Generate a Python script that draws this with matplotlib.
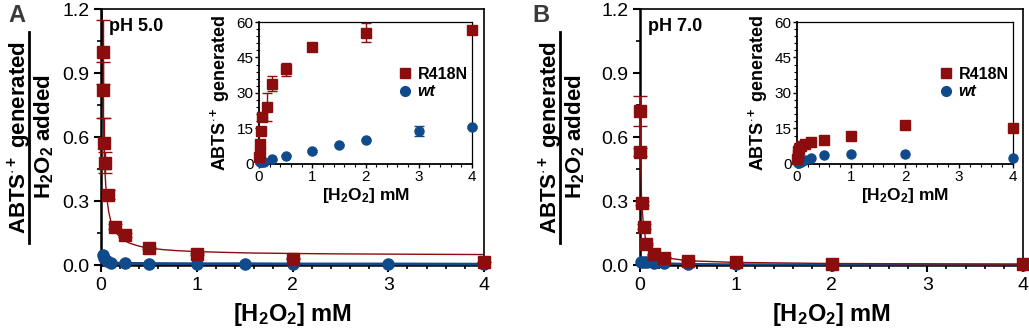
# ABTS radical formation, R418N vs wt, pH 5.0 (A) and pH 7.0 (B)
import matplotlib as mpl
import matplotlib.pyplot as plt
from matplotlib.ticker import MultipleLocator
from matplotlib.lines import Line2D

mpl.rcParams['font.family'] = ['Liberation Sans', 'DejaVu Sans']
mpl.rcParams['mathtext.fontset'] = 'custom'
mpl.rcParams['mathtext.rm'] = 'Liberation Sans'
mpl.rcParams['mathtext.bf'] = 'Liberation Sans:bold'
mpl.rcParams['mathtext.it'] = 'Liberation Sans:italic'

RED = '#8b0d0d'
BLUE = '#0f4a8a'

# ---- pH 5.0 : ratio (main) ----
a_red_x = [0.017, 0.024, 0.028, 0.041, 0.069, 0.15, 0.25, 0.5, 1.0, 2.0, 4.0]
a_red_y = [1.00, 0.82, 0.57, 0.48, 0.33, 0.18, 0.14, 0.08, 0.05, 0.03, 0.015]
a_red_err = [0.15, 0.13, 0.12, 0.05, 0.02, 0.01, 0.01, 0.005, 0.004, 0.002, 0.001]
a_fit_x = [0.012, 0.016, 0.02, 0.025, 0.03, 0.04, 0.05, 0.065, 0.08, 0.1, 0.12, 0.15, 0.2,
           0.25, 0.3, 0.4, 0.5, 0.65, 0.8, 1.0, 1.3, 1.6, 2.0, 2.5, 3.0, 3.5, 4.0]
a_fit_y = [1.20, 0.98, 0.82, 0.68, 0.58, 0.45, 0.37, 0.30, 0.25, 0.21, 0.18, 0.155, 0.13,
           0.113, 0.102, 0.088, 0.080, 0.072, 0.067, 0.063, 0.059, 0.056, 0.054, 0.052, 0.051,
           0.050, 0.049]
a_blue_x = [0.02, 0.035, 0.06, 0.1, 0.25, 0.5, 1.0, 1.5, 2.0, 3.0, 4.0]
a_blue_y = [0.045, 0.035, 0.02, 0.01, 0.008, 0.007, 0.006, 0.006, 0.005, 0.005, 0.004]

# ---- pH 5.0 : ABTS generated (inset) ----
ai_red_x = [0.005, 0.01, 0.02, 0.04, 0.06, 0.15, 0.25, 0.5, 1.0, 2.0, 4.0]
ai_red_y = [3.0, 4.5, 8.5, 14.0, 20.0, 24.0, 34.0, 40.0, 49.5, 55.5, 56.5]
ai_red_err = [0.5, 0.5, 0.8, 1.0, 1.0, 6.0, 3.0, 2.8, 1.5, 4.0, 1.0]
ai_blue_x = [0.01, 0.03, 0.06, 0.1, 0.25, 0.5, 1.0, 1.5, 2.0, 3.0, 4.0]
ai_blue_y = [1.0, 1.0, 1.0, 0.8, 2.0, 3.5, 5.5, 8.0, 10.2, 14.0, 15.5]
ai_blue_err = [0.2, 0.2, 0.2, 0.2, 0.3, 0.3, 0.4, 0.4, 0.5, 2.0, 0.5]

# ---- pH 7.0 : ratio (main) ----
b_red_x = [0.003, 0.005, 0.017, 0.038, 0.066, 0.15, 0.25, 0.5, 1.0, 2.0, 4.0]
b_red_y = [0.72, 0.53, 0.29, 0.18, 0.10, 0.05, 0.035, 0.02, 0.012, 0.007, 0.004]
b_red_err = [0.07, 0.02, 0.01, 0.01, 0.005, 0.003, 0.002, 0.002, 0.001, 0.001, 0.001]
b_blue_x = [0.01, 0.04, 0.07, 0.15, 0.25, 0.5, 1.0, 2.0, 4.0]
b_blue_y = [0.015, 0.015, 0.013, 0.01, 0.008, 0.005, 0.003, 0.002, 0.002]

# ---- pH 7.0 : ABTS generated (inset) ----
bi_red_x = [0.005, 0.01, 0.02, 0.04, 0.07, 0.15, 0.25, 0.5, 1.0, 2.0, 4.0]
bi_red_y = [2.0, 4.0, 5.5, 6.5, 7.5, 8.5, 9.2, 10.0, 11.8, 16.5, 15.0]
bi_blue_x = [0.01, 0.04, 0.07, 0.15, 0.25, 0.5, 1.0, 2.0, 4.0]
bi_blue_y = [0.3, 0.6, 1.0, 1.8, 2.5, 3.6, 4.2, 4.3, 2.7]

xticks = [0, 1, 2, 3, 4]
main_yticks = [0.0, 0.3, 0.6, 0.9, 1.2]
inset_yticks = [0, 15, 30, 45, 60]

W, H = 1029, 332
fig = plt.figure(figsize=(W / 100, H / 100), dpi=100)


def frac(x0, y0, x1, y1):
    # pixel box -> figure fraction [l, b, w, h]
    return [x0 / W, 1 - y1 / H, (x1 - x0) / W, (y1 - y0) / H]


def style_main(ax):
    ax.set_xlim(0, 4)
    ax.set_ylim(0, 1.2)
    ax.set_xticks(xticks)
    ax.set_yticks(main_yticks)
    ax.set_yticklabels(['%.1f' % v for v in main_yticks])
    ax.xaxis.set_minor_locator(MultipleLocator(0.2))
    ax.yaxis.set_minor_locator(MultipleLocator(0.15))
    ax.tick_params(which='major', length=5, width=1.5, labelsize=14, direction='out')
    ax.tick_params(which='minor', length=3, width=1.2, direction='out')
    for sp in ['left', 'bottom']:
        ax.spines[sp].set_linewidth(1.8)
    for sp in ['top', 'right']:
        ax.spines[sp].set_linewidth(1.2)
    ax.set_xlabel(r'[H$_\mathbf{2}$O$_\mathbf{2}$] mM', fontsize=17, fontweight='bold',
                  labelpad=5)


def style_inset(ax):
    ax.set_xlim(0, 4)
    ax.set_ylim(0, 60)
    ax.set_xticks(xticks)
    ax.set_yticks(inset_yticks)
    ax.xaxis.set_minor_locator(MultipleLocator(0.2))
    ax.yaxis.set_minor_locator(MultipleLocator(3))
    ax.tick_params(which='major', length=3, width=1.0, labelsize=11, pad=1)
    ax.tick_params(which='minor', length=2, width=0.8)
    for sp in ['left', 'bottom']:
        ax.spines[sp].set_linewidth(1.3)
    for sp in ['top', 'right']:
        ax.spines[sp].set_linewidth(0.9)
    ax.set_xlabel(r'[H$_\mathbf{2}$O$_\mathbf{2}$] mM', fontsize=12.5, fontweight='bold',
                  labelpad=2)
    ax.set_ylabel(r'ABTS$^{\mathbf{\cdot+}}$ generated', fontsize=13, fontweight='bold',
                  labelpad=3)
    handles = [Line2D([], [], ls='none', marker='s', ms=7.5, color=RED),
               Line2D([], [], ls='none', marker='o', ms=7, color=BLUE)]
    leg = ax.legend(handles, ['R418N', 'wt'], loc='upper right', bbox_to_anchor=(1.01, 0.73),
                    frameon=False, fontsize=11.5, handlelength=0.6, handletextpad=0.5,
                    labelspacing=0.15, borderaxespad=0.0)
    for t in leg.get_texts():
        t.set_fontweight('bold')
    leg.get_texts()[1].set_fontstyle('italic')


def ratio_label(xc):
    # stacked "fraction" y label
    fig.text(xc / W, 1 - 137 / H, r'ABTS$^{\mathbf{\cdot+}}$ generated', rotation=90,
             ha='center', va='center', fontsize=16, fontweight='bold')
    fig.text((xc + 24) / W, 1 - 137 / H, r'H$_\mathbf{2}$O$_\mathbf{2}$ added', rotation=90,
             ha='center', va='center', fontsize=16, fontweight='bold')
    fig.add_artist(Line2D([(xc + 9) / W, (xc + 9) / W], [1 - 32 / H, 1 - 243 / H],
                          color='black', lw=2, transform=fig.transFigure))


# ================= Panel A =================
axA = fig.add_axes(frac(101, 9, 484, 265))
axA.plot(a_fit_x, a_fit_y, color=RED, lw=1.0, zorder=2, clip_on=True)
axA.plot(a_blue_x, a_blue_y, color=BLUE, lw=2.0, marker='o', ms=8, zorder=3, clip_on=False)
axA.errorbar(a_red_x, a_red_y, yerr=a_red_err, fmt='s', ms=9, color=RED, ecolor=RED,
             elinewidth=1.0, capsize=5, capthick=1.0, zorder=4, clip_on=False)
style_main(axA)
axA.text(0.02, 0.965, 'pH 5.0', transform=axA.transAxes, fontsize=13, fontweight='bold',
         va='top', ha='left')

axAi = fig.add_axes(frac(259, 22, 472, 164))
axAi.errorbar(ai_red_x, ai_red_y, yerr=ai_red_err, fmt='s', ms=7, color=RED, ecolor=RED,
              elinewidth=1.0, capsize=3.5, capthick=1.0, zorder=4, clip_on=False)
axAi.errorbar(ai_blue_x, ai_blue_y, yerr=ai_blue_err, fmt='o', ms=6.5, color=BLUE,
              ecolor=BLUE, elinewidth=1.0, capsize=3.5, capthick=1.0, zorder=3, clip_on=False)
style_inset(axAi)

ratio_label(20)
fig.text(8 / W, 1 - 4 / H, 'A', fontsize=17, fontweight='bold', color='#3a3a3a',
         ha='left', va='top')

# ================= Panel B =================
axB = fig.add_axes(frac(640, 9, 1023, 265))
axB.plot(b_blue_x, b_blue_y, color=BLUE, lw=1.5, marker='o', ms=8, zorder=3, clip_on=False)
axB.errorbar(b_red_x, b_red_y, yerr=b_red_err, fmt='s-', ms=9, lw=1.0, color=RED, ecolor=RED,
             elinewidth=1.0, capsize=5, capthick=1.0, zorder=4, clip_on=False)
style_main(axB)
axB.text(0.02, 0.965, 'pH 7.0', transform=axB.transAxes, fontsize=13, fontweight='bold',
         va='top', ha='left')

axBi = fig.add_axes(frac(797, 22, 1013, 164))
axBi.plot(bi_red_x, bi_red_y, ls='none', marker='s', ms=7, color=RED, zorder=4, clip_on=False)
axBi.plot(bi_blue_x, bi_blue_y, ls='none', marker='o', ms=6.5, color=BLUE, zorder=3,
          clip_on=False)
style_inset(axBi)

ratio_label(551)
fig.text(532 / W, 1 - 4 / H, 'B', fontsize=17, fontweight='bold', color='#3a3a3a',
         ha='left', va='top')

fig.savefig('out.png', dpi=100)
